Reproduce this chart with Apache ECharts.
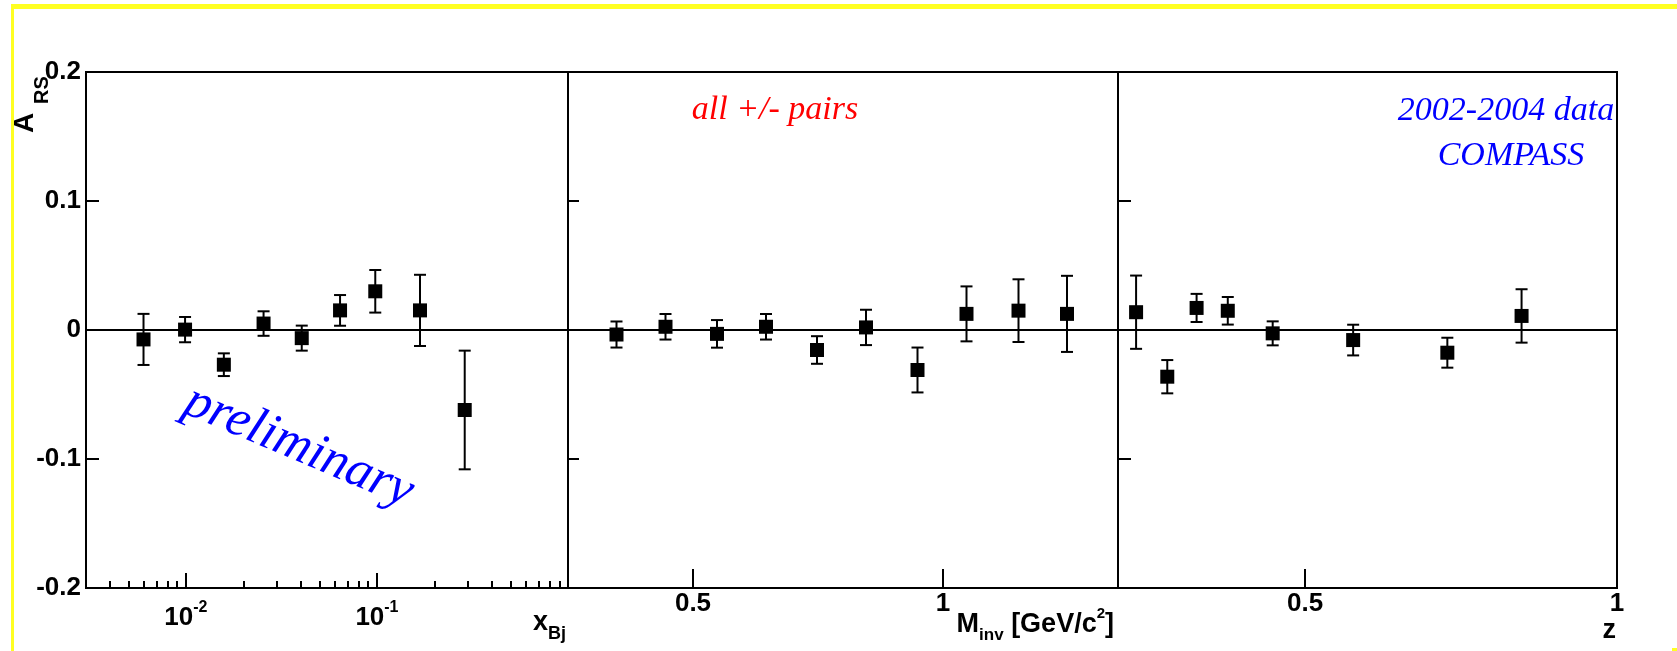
<!DOCTYPE html>
<html>
<head>
<meta charset="utf-8">
<title>A_RS vs x_Bj, M_inv, z</title>
<script src="https://cdn.jsdelivr.net/npm/echarts@6.0.0/dist/echarts.min.js"></script>
<style>
    html, body { margin: 0; padding: 0; background: #fff; }
    #chart { width: 1677px; height: 651px; }
</style>
</head>
<body>
<div id="chart"></div>
<script>
    // panel 1: x_Bj (log scale)
    var xbjBins = [0.006, 0.0099, 0.0158, 0.0255, 0.0404, 0.0641, 0.098, 0.168, 0.288];
    var xbjAsym = [-0.0073, 0.0003, -0.0269, 0.005, -0.0063, 0.0152, 0.030, 0.0152, -0.062];
    var xbjErr = [0.0198, 0.0098, 0.0088, 0.0095, 0.0097, 0.0119, 0.0165, 0.0276, 0.046];

    // panel 2: M_inv [GeV/c^2]
    var minvBins = [0.347, 0.445, 0.548, 0.646, 0.748, 0.846, 0.949, 1.047, 1.151, 1.248];
    var minvAsym = [-0.0035, 0.0025, -0.003, 0.0025, -0.0155, 0.002, -0.031, 0.0125, 0.015, 0.0125];
    var minvErr = [0.0101, 0.0099, 0.0107, 0.0099, 0.0107, 0.0137, 0.0174, 0.0213, 0.0243, 0.0295];

    // panel 3: z
    var zBins = [0.229, 0.279, 0.326, 0.376, 0.448, 0.577, 0.728, 0.847];
    var zAsym = [0.0138, -0.0362, 0.0171, 0.0149, -0.0026, -0.0078, -0.0176, 0.0109];
    var zErr = [0.0284, 0.0129, 0.0109, 0.0107, 0.0093, 0.0119, 0.0116, 0.0207];

    // axis ticks
    var xbjMajorTicks = [0.01, 0.1];
    var xbjMinorTicks = [0.004, 0.005, 0.006, 0.007, 0.008, 0.009,
        0.02, 0.03, 0.04, 0.05, 0.06, 0.07, 0.08, 0.09,
        0.2, 0.3, 0.4, 0.5, 0.6, 0.7, 0.8, 0.9];
    var minvTicks = [0.5, 1];
    var zTicks = [0.5, 1];

    var SANS = '"Liberation Sans", Arial, Helvetica, sans-serif';
    var SERIF = '"Liberation Serif", "Times New Roman", serif';

    function points(xs, ys, es) {
        return xs.map(function (x, i) {
            return [x, ys[i], es[i]];
        });
    }

    // vertical error bar with small caps
    function renderErrorBar(params, api) {
        var x = api.value(0);
        var y = api.value(1);
        var e = api.value(2);
        var hi = api.coord([x, y + e]);
        var lo = api.coord([x, y - e]);
        var style = { stroke: '#000', lineWidth: 2 };
        return {
            type: 'group',
            children: [
                { type: 'line', shape: { x1: hi[0], y1: hi[1], x2: lo[0], y2: lo[1] }, style: style },
                { type: 'line', shape: { x1: hi[0] - 6, y1: hi[1], x2: hi[0] + 6, y2: hi[1] }, style: style },
                { type: 'line', shape: { x1: lo[0] - 6, y1: lo[1], x2: lo[0] + 6, y2: lo[1] }, style: style }
            ]
        };
    }

    function panelSeries(idx, data) {
        return [{
            type: 'custom',
            xAxisIndex: idx === 0 ? 0 : idx + 1,
            yAxisIndex: idx,
            renderItem: renderErrorBar,
            data: data,
            z: 3,
            markLine: {
                silent: true,
                symbol: ['none', 'none'],
                label: { show: false },
                lineStyle: { color: '#000', width: 2, type: 'solid' },
                data: [{ yAxis: 0 }]
            }
        }, {
            type: 'scatter',
            xAxisIndex: idx === 0 ? 0 : idx + 1,
            yAxisIndex: idx,
            symbol: 'rect',
            symbolSize: 14,
            itemStyle: { color: '#000', opacity: 1 },
            data: data,
            z: 4
        }];
    }

    var tickLabel = { color: '#000', fontFamily: SANS, fontWeight: 'bold', fontSize: 26 };
    var noLine = { show: false, onZero: false };

    function linearXAxis(grid, min, max, ticks) {
        return {
            gridIndex: grid,
            type: 'value',
            min: min,
            max: max,
            position: 'bottom',
            axisLine: noLine,
            splitLine: { show: false },
            axisTick: { inside: true, length: 19, customValues: ticks, lineStyle: { color: '#000', width: 2 } },
            axisLabel: Object.assign({ margin: 3, customValues: ticks }, tickLabel)
        };
    }

    function yAxis(grid, tickLen) {
        return {
            gridIndex: grid,
            type: 'value',
            min: -0.2,
            max: 0.2,
            interval: 0.1,
            axisLine: noLine,
            splitLine: { show: false },
            axisTick: { inside: true, length: tickLen, lineStyle: { color: '#000', width: 2 } },
            axisLabel: Object.assign({ show: grid === 0, margin: 5 }, tickLabel)
        };
    }

    var frame = { show: true, borderColor: '#000', borderWidth: 2, backgroundColor: 'transparent' };

    var chart = echarts.init(document.getElementById('chart'), null, { renderer: 'canvas' });

    chart.setOption({
        backgroundColor: '#fff',
        animation: false,
        grid: [
            Object.assign({ left: 86, top: 72, width: 482, height: 516 }, frame),
            Object.assign({ left: 568, top: 72, width: 550, height: 516 }, frame),
            Object.assign({ left: 1118, top: 72, width: 499, height: 516 }, frame)
        ],
        xAxis: [{
            gridIndex: 0,
            type: 'log',
            logBase: 10,
            min: 0.003,
            max: 1,
            position: 'bottom',
            axisLine: noLine,
            splitLine: { show: false },
            axisTick: { inside: true, length: 15, customValues: xbjMajorTicks, lineStyle: { color: '#000', width: 2 } },
            axisLabel: {
                margin: 12,
                customValues: xbjMajorTicks,
                formatter: function (v) {
                    return '{b|10}{s|' + Math.round(Math.log10(v)) + '}';
                },
                rich: {
                    b: { color: '#000', fontFamily: SANS, fontWeight: 'bold', fontSize: 26, lineHeight: 36 },
                    s: { color: '#000', fontFamily: SANS, fontWeight: 'bold', fontSize: 16, verticalAlign: 'top' }
                }
            }
        }, {
            // minor ticks of the log axis
            gridIndex: 0,
            type: 'log',
            logBase: 10,
            min: 0.003,
            max: 1,
            position: 'bottom',
            axisLine: noLine,
            splitLine: { show: false },
            axisLabel: { show: false },
            axisTick: { inside: true, length: 7, customValues: xbjMinorTicks, lineStyle: { color: '#000', width: 2 } }
        },
            linearXAxis(1, 0.25, 1.35, minvTicks),
            linearXAxis(2, 0.2, 1, zTicks)
        ],
        yAxis: [yAxis(0, 13), yAxis(1, 11), yAxis(2, 13)],
        series: [].concat(
            panelSeries(0, points(xbjBins, xbjAsym, xbjErr)),
            panelSeries(1, points(minvBins, minvAsym, minvErr)),
            panelSeries(2, points(zBins, zAsym, zErr))
        ),
        graphic: [
            // yellow slide border
            { type: 'rect', shape: { x: 11, y: 4, width: 3, height: 647 }, style: { fill: '#ffff22' }, silent: true },
            { type: 'rect', shape: { x: 11, y: 4, width: 1666, height: 5 }, style: { fill: '#ffff22' }, silent: true },
            { type: 'rect', shape: { x: 1672, y: 648, width: 5, height: 3 }, style: { fill: '#ffff22' }, silent: true },
            // y axis title A_RS
            {
                type: 'text', x: 25.5, y: 133, rotation: Math.PI / 2,
                style: { text: 'A', font: 'bold 28px ' + SANS, fill: '#000', align: 'left', verticalAlign: 'middle' }
            },
            {
                type: 'text', x: 42, y: 104, rotation: Math.PI / 2,
                style: { text: 'RS', font: 'bold 20px ' + SANS, fill: '#000', align: 'left', verticalAlign: 'middle' }
            },
            // x axis titles
            {
                type: 'text', x: 566, y: 623,
                style: {
                    text: '{m|x}{s|Bj}', align: 'right', verticalAlign: 'middle', fill: '#000',
                    rich: {
                        m: { font: 'bold 27px ' + SANS, fill: '#000', lineHeight: 41 },
                        s: { font: 'bold 18px ' + SANS, fill: '#000', verticalAlign: 'bottom' }
                    }
                }
            },
            {
                type: 'text', x: 1114, y: 625,
                style: {
                    text: '{m|M}{s|inv}{m| [GeV/c}{p|2}{m|]}', align: 'right', verticalAlign: 'middle', fill: '#000',
                    rich: {
                        m: { font: 'bold 27px ' + SANS, fill: '#000', lineHeight: 38 },
                        s: { font: 'bold 17px ' + SANS, fill: '#000', verticalAlign: 'bottom' },
                        p: { font: 'bold 15px ' + SANS, fill: '#000', verticalAlign: 'top' }
                    }
                }
            },
            {
                type: 'text', x: 1616, y: 631,
                style: { text: 'z', font: 'bold 27px ' + SANS, fill: '#000', align: 'right', verticalAlign: 'middle' }
            },
            // annotations
            {
                type: 'text', x: 299, y: 447, rotation: -23 * Math.PI / 180,
                style: { text: 'preliminary', font: 'italic 52px ' + SERIF, fill: '#0000ff', align: 'center', verticalAlign: 'middle' }
            },
            {
                type: 'text', x: 775, y: 110,
                style: { text: 'all +/- pairs', font: 'italic 34px ' + SERIF, fill: '#ff0000', align: 'center', verticalAlign: 'middle' }
            },
            {
                type: 'text', x: 1506, y: 111,
                style: { text: '2002-2004 data', font: 'italic 34px ' + SERIF, fill: '#0000ff', align: 'center', verticalAlign: 'middle' }
            },
            {
                type: 'text', x: 1511, y: 156,
                style: { text: 'COMPASS', font: 'italic 34px ' + SERIF, fill: '#0000ff', align: 'center', verticalAlign: 'middle' }
            }
        ]
    });
</script>
</body>
</html>
